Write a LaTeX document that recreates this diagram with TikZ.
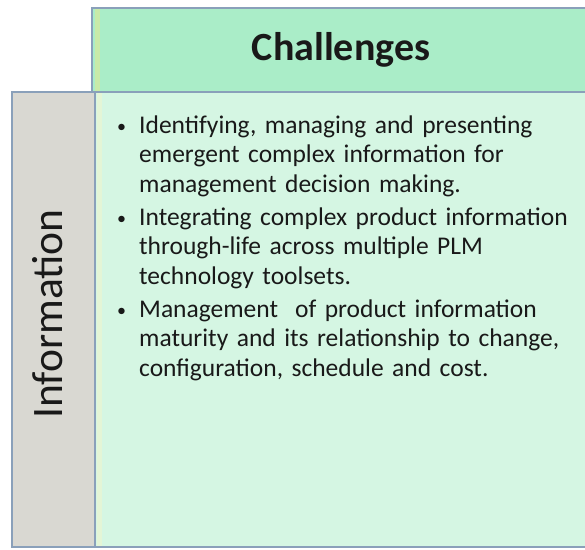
\documentclass[tikz,border=0pt]{standalone}
\usepackage{fontspec}
\setmainfont{Carlito}
\definecolor{hdrfill}{RGB}{170,237,200}
\definecolor{bodyfill}{RGB}{213,246,227}
\definecolor{sidefill}{RGB}{217,216,210}
\definecolor{edge}{RGB}{138,160,186}
\definecolor{hdrstrip}{RGB}{200,234,168}
\definecolor{bodystrip}{RGB}{228,245,214}
\definecolor{txt}{RGB}{25,25,25}
\tikzset{
  cellbox/.style={draw=edge, line width=1.6pt},
}
\newcommand{\bulletitem}[1]{\noindent\hangindent=22pt\hangafter=1\makebox[22pt][l]{\hspace{0pt}\raisebox{1pt}{\fontsize{18}{18}\selectfont •}}#1\par}
\begin{document}
\begin{tikzpicture}[x=1pt,y=-1pt]
\useasboundingbox (0,0) rectangle (585,549);
\clip (0,0) rectangle (585,549);
% header
\draw[cellbox, fill=hdrfill] (92,8) rectangle (600,92);
\fill[hdrstrip] (95,9) rectangle (100,91);
% body
\draw[cellbox, fill=bodyfill] (95,92) rectangle (600,547);
\fill[bodystrip] (96.5,93) rectangle (102,546);
% side
\draw[cellbox, fill=sidefill] (12,92) rectangle (95,547);
\node[font=\fontsize{40}{48}\selectfont\bfseries, text=txt, anchor=base, inner sep=0pt] (title) at (341,60) {Challenges};
\node[font=\fontsize{43.5}{50}\selectfont, text=txt, anchor=base, rotate=90, inner sep=0pt] (side) at (62,314) {Information};
\node[anchor=north west, inner sep=0pt, text width=470pt, text=txt,
      font=\fontsize{25.5}{29.5}\selectfont] (items) at (117,112.3) {\raggedright
\bulletitem{\strut Identifying, managing and presenting\newline emergent complex information for\newline management decision making.}
\vspace{3.5pt}
\bulletitem{Integrating complex product information\newline through-life across multiple PLM\newline technology toolsets.}
\vspace{3.5pt}
\bulletitem{Management\ \ of product information\newline maturity and its relationship to change,\newline configuration, schedule and cost.}
};
\end{tikzpicture}
\end{document}
